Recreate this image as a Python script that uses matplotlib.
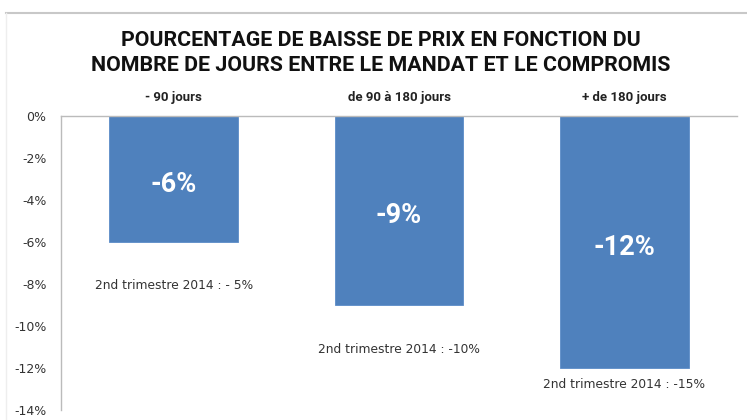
import matplotlib
matplotlib.use("Agg")
import matplotlib.pyplot as plt

categories = ["- 90 jours", "de 90 à 180 jours", "+ de 180 jours"]
values = [-6, -9, -12]
value_labels = ["-6%", "-9%", "-12%"]
notes = ["2nd trimestre 2014 : - 5%", "2nd trimestre 2014 : -10%", "2nd trimestre 2014 : -15%"]
note_y = [-8.05, -11.1, -12.8]
yticks = [0, -2, -4, -6, -8, -10, -12, -14]
ytick_labels = ["0%", "-2%", "-4%", "-6%", "-8%", "-10%", "-12%", "-14%"]
title = "POURCENTAGE DE BAISSE DE PRIX EN FONCTION DU\nNOMBRE DE JOURS ENTRE LE MANDAT ET LE COMPROMIS"

narrow = "Roboto"

fig = plt.figure(figsize=(7.47, 4.2), dpi=100)
ax = fig.add_axes([61/747, 1-410/420, (737-61)/747, (410-116)/420])

x = list(range(len(categories)))
ax.bar(x, values, width=0.57, color="#4F81BD", edgecolor="#5B8CC8", linewidth=0.6, zorder=2)
ax.set_xlim(-0.5, 2.5)
ax.set_ylim(-14, 0)

for xi, v, lab in zip(x, values, value_labels):
    ax.text(xi, v/2 - 0.25, lab, ha="center", va="center", color="white",
            fontsize=19.5, fontweight="bold", family=narrow, zorder=3)
for xi, ny, note in zip(x, note_y, notes):
    ax.text(xi, ny, note, ha="center", va="center", color="#333333",
            fontsize=8.8, family="DejaVu Sans", zorder=3)

ax.set_yticks(yticks)
ax.set_yticklabels(ytick_labels, family="DejaVu Sans", fontsize=9, color="#333333")
ax.tick_params(axis="y", length=0, pad=10.5)

ax.xaxis.tick_top()
ax.set_xticks(x)
ax.set_xticklabels(categories, fontweight="bold", family=narrow, fontsize=9.5, color="#222222")
ax.tick_params(axis="x", length=0, pad=9)

for s in ["right", "bottom"]:
    ax.spines[s].set_visible(False)
ax.spines["left"].set_color("#BBBBBB")
ax.spines["top"].set_color("#BBBBBB")
ax.spines["left"].set_linewidth(1.0)
ax.spines["top"].set_linewidth(1.0)

fig.text(381/747, 1-53/420, title, ha="center", va="center", fontsize=15.4,
         fontweight="bold", family=narrow, color="#111111", linespacing=1.38)

# outer frame lines (top and left)
fig.add_artist(plt.Line2D([6/747, 1], [1-13/420, 1-13/420], color="#C8C8C8", lw=1.5))
fig.add_artist(plt.Line2D([6/747, 6/747], [0, 1-13/420], color="#EEEEEE", lw=1.0))

fig.savefig("out.png", dpi=100, facecolor="white")
